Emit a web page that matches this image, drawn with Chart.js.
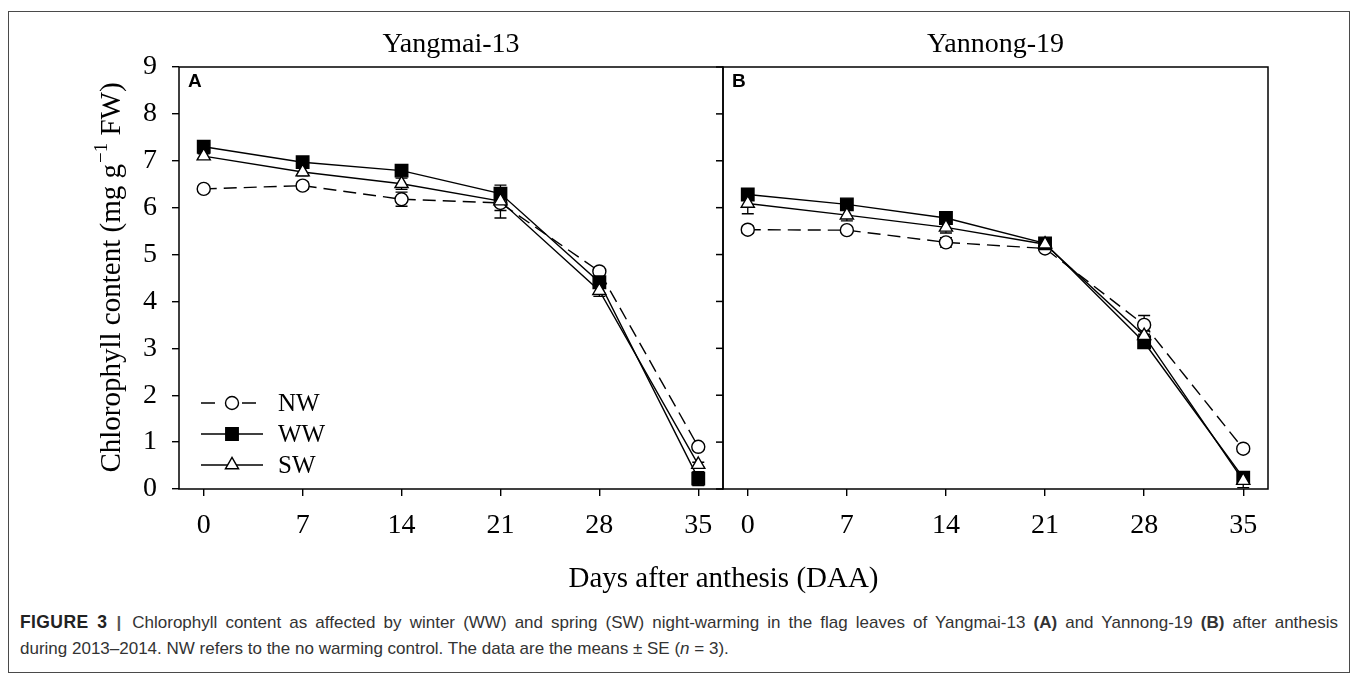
<!DOCTYPE html>
<html>
<head>
<meta charset="utf-8">
<script src="https://cdn.jsdelivr.net/npm/chart.js@4.4.1/dist/chart.umd.min.js"></script>
<style>
  html, body { margin: 0; padding: 0; background: #fff; }
  body { width: 1358px; height: 677px; position: relative; overflow: hidden; }
  #frame { position: absolute; left: 8px; top: 11px; width: 1342px; height: 662px;
           border: 1.5px solid #4a4a4a; box-sizing: border-box; }
  canvas { position: absolute; left: 0; top: 0; }
  #caption { position: absolute; left: 20px; top: 609px; width: 1318px;
             font-family: "Liberation Sans", Arial, sans-serif; font-size: 17px;
             line-height: 26px; color: #333; }
  #caption .first { display: block; white-space: nowrap; text-align: justify; text-align-last: justify; }
  #caption .second { display: block; white-space: nowrap; }
  #caption .fig { font-weight: bold; font-size: 17.5px; letter-spacing: 0.4px; color: #222; }
  #caption .bar { font-weight: bold; margin: 0 3px 0 1px; color: #555; }
</style>
</head>
<body>
<div id="frame"></div>
<canvas id="chartA" width="1358" height="600" style="width:1358px;height:600px"></canvas>
<canvas id="chartB" width="1358" height="600" style="width:1358px;height:600px"></canvas>
<div id="caption"><span class="first"><span class="fig">FIGURE 3</span> <span class="bar">|</span> Chlorophyll content as affected by winter (WW) and spring (SW) night-warming in the flag leaves of Yangmai-13 <b>(A)</b> and Yannong-19 <b>(B)</b> after anthesis</span><span class="second">during 2013–2014. NW refers to the no warming control. The data are the means ± SE (<i>n</i> = 3).</span></div>
<script>
// Sampling days after anthesis (x-axis ticks)
const days = [0, 7, 14, 21, 28, 35];
const yTicks = [0, 1, 2, 3, 4, 5, 6, 7, 8, 9];
const treatments = ['NW', 'WW', 'SW'];
const cultivars = ['Yangmai-13', 'Yannong-19'];

// Chlorophyll content (mg g-1 FW), Yangmai-13
const yangmaiNW = [6.40, 6.47, 6.18, 6.10, 4.64, 0.90];
const yangmaiWW = [7.30, 6.97, 6.79, 6.30, 4.41, 0.22];
const yangmaiSW = [7.10, 6.76, 6.51, 6.14, 4.23, 0.52];
// Standard errors, Yangmai-13
const yangmaiNWse = [0.05, 0.08, 0.15, 0.32, 0.05, 0.05];
const yangmaiWWse = [0.05, 0.05, 0.05, 0.18, 0.10, 0.15];
const yangmaiSWse = [0.05, 0.08, 0.12, 0.20, 0.12, 0.05];

// Chlorophyll content (mg g-1 FW), Yannong-19
const yannongNW = [5.53, 5.52, 5.26, 5.13, 3.50, 0.86];
const yannongWW = [6.28, 6.07, 5.78, 5.24, 3.13, 0.24];
const yannongSW = [6.09, 5.84, 5.58, 5.22, 3.27, 0.18];
// Standard errors, Yannong-19
const yannongNWse = [0.08, 0.05, 0.10, 0.05, 0.20, 0.05];
const yannongWWse = [0.05, 0.05, 0.05, 0.05, 0.08, 0.10];
const yannongSWse = [0.22, 0.12, 0.12, 0.05, 0.10, 0.15];

const SERIF = '"Liberation Serif", "Times New Roman", serif';
const SANS = '"Liberation Sans", Arial, sans-serif';
Chart.defaults.font.family = SERIF;
Chart.defaults.color = '#000';

// marker / line appearance per treatment
const looks = {
  NW: { point: 'circle',   r: 6.5, fill: '#fff', dash: [13, 7], order: 3 },
  WW: { point: 'rect',     r: 8.8, fill: '#000', dash: [],      order: 2 },
  SW: { point: 'triangle', r: 7.6, fill: '#fff', dash: [],      order: 1 }
};

function series(label, values, se) {
  const lk = looks[label];
  return {
    label,
    data: days.map((d, i) => ({ x: d, y: values[i] })),
    se,
    borderColor: '#000',
    borderWidth: 1.4,
    borderDash: lk.dash,
    pointStyle: lk.point,
    pointRadius: lk.r,
    pointBackgroundColor: lk.fill,
    pointBorderColor: '#000',
    pointBorderWidth: 1.4,
    tension: 0,
    fill: false,
    order: lk.order
  };
}

// draw one marker the same way Chart.js shapes it
function marker(ctx, kind, x, y) {
  const lk = looks[kind];
  ctx.beginPath();
  if (lk.point === 'circle') {
    ctx.arc(x, y, lk.r, 0, Math.PI * 2);
  } else if (lk.point === 'rect') {
    const s = lk.r * Math.SQRT1_2;
    ctx.rect(x - s, y - s, 2 * s, 2 * s);
  } else {
    let a = 0;
    ctx.moveTo(x + Math.sin(a) * lk.r, y - Math.cos(a) * lk.r);
    a += Math.PI * 2 / 3;
    ctx.lineTo(x + Math.sin(a) * lk.r, y - Math.cos(a) * lk.r);
    a += Math.PI * 2 / 3;
    ctx.lineTo(x + Math.sin(a) * lk.r, y - Math.cos(a) * lk.r);
    ctx.closePath();
  }
  ctx.fillStyle = lk.fill;
  ctx.fill();
  ctx.lineWidth = 1.4;
  ctx.strokeStyle = '#000';
  ctx.stroke();
}

// error bars, panel frame, titles, legend and axis titles
const panelDecor = {
  id: 'panelDecor',
  beforeDatasetsDraw(chart) {
    const { ctx, scales: { x, y } } = chart;
    ctx.save();
    ctx.strokeStyle = '#000';
    ctx.lineWidth = 1.3;
    chart.data.datasets.forEach(ds => {
      ds.data.forEach((p, i) => {
        const e = ds.se[i];
        const px = x.getPixelForValue(p.x);
        const t = y.getPixelForValue(p.y + e);
        const b = y.getPixelForValue(p.y - e);
        ctx.beginPath();
        ctx.moveTo(px, t); ctx.lineTo(px, b);
        ctx.moveTo(px - 6, t); ctx.lineTo(px + 6, t);
        ctx.moveTo(px - 6, b); ctx.lineTo(px + 6, b);
        ctx.stroke();
      });
    });
    ctx.restore();
  },
  afterDraw(chart, args, opts) {
    const { ctx, chartArea: a, scales: { y } } = chart;
    ctx.save();
    ctx.strokeStyle = '#000';
    ctx.lineWidth = 1.5;
    ctx.strokeRect(a.left, a.top, a.right - a.left, a.bottom - a.top);

    if (opts.innerTicks) {
      yTicks.forEach(v => {
        const py = y.getPixelForValue(v);
        ctx.beginPath();
        ctx.moveTo(a.right - 7, py);
        ctx.lineTo(a.right, py);
        ctx.stroke();
      });
    }

    ctx.fillStyle = '#000';
    ctx.font = '28px ' + SERIF;
    ctx.textAlign = 'center';
    ctx.textBaseline = 'alphabetic';
    ctx.fillText(opts.title, (a.left + a.right) / 2, 52);

    ctx.font = 'bold 19px ' + SANS;
    ctx.textAlign = 'left';
    ctx.fillText(opts.letter, a.left + 9, 87);

    if (opts.legend) {
      const rows = [403, 434, 465];
      chart.data.datasets.forEach((ds, i) => {
        const ly = rows[i];
        ctx.strokeStyle = '#000';
        ctx.lineWidth = 1.4;
        ctx.beginPath();
        if (ds.borderDash.length) {
          ctx.moveTo(a.left + 22, ly); ctx.lineTo(a.left + 36, ly);
          ctx.moveTo(a.left + 63, ly); ctx.lineTo(a.left + 77, ly);
        } else {
          ctx.moveTo(a.left + 22, ly); ctx.lineTo(a.left + 84, ly);
        }
        ctx.stroke();
        marker(ctx, ds.label, a.left + 53, ly);
        ctx.fillStyle = '#000';
        ctx.font = '25px ' + SERIF;
        ctx.textAlign = 'left';
        ctx.textBaseline = 'middle';
        ctx.fillText(ds.label, a.left + 99, ly + 1);
      });
    }

    if (opts.yTitle) {
      const p1 = 'Chlorophyll content (mg g', sup = '\u22121', p2 = ' FW)';
      ctx.font = '29px ' + SERIF;
      const w1 = ctx.measureText(p1).width, w3 = ctx.measureText(p2).width;
      ctx.font = '19px ' + SERIF;
      const w2 = ctx.measureText(sup).width;
      const start = -(w1 + w2 + w3) / 2;
      ctx.translate(120, (a.top + a.bottom) / 2);
      ctx.rotate(-Math.PI / 2);
      ctx.textAlign = 'left';
      ctx.textBaseline = 'alphabetic';
      ctx.fillStyle = '#000';
      ctx.font = '29px ' + SERIF;
      ctx.fillText(p1, start, 0);
      ctx.font = '19px ' + SERIF;
      ctx.fillText(sup, start + w1 + 1, -13);
      ctx.font = '29px ' + SERIF;
      ctx.fillText(p2, start + w1 + w2 + 1, 0);
      ctx.setTransform(1, 0, 0, 1, 0, 0);
    }

    if (opts.xTitle) {
      ctx.fillStyle = '#000';
      ctx.font = '29px ' + SERIF;
      ctx.textAlign = 'center';
      ctx.textBaseline = 'alphabetic';
      ctx.fillText(opts.xTitle, 723.5, 587);
    }
    ctx.restore();
  }
};

function panel(canvasId, sets, deco, pad, showY) {
  return new Chart(document.getElementById(canvasId), {
    type: 'line',
    data: { datasets: sets },
    plugins: [panelDecor],
    options: {
      responsive: false,
      animation: false,
      devicePixelRatio: 1,
      layout: { padding: pad },
      plugins: {
        legend: { display: false },
        tooltip: { enabled: false },
        title: { display: false },
        panelDecor: deco
      },
      scales: {
        x: {
          type: 'linear',
          min: -1.75,
          max: 36.75,
          afterBuildTicks: s => { s.ticks = days.map(v => ({ value: v })); },
          afterFit: s => { s.height = 600 - 489; },
          border: { display: false },
          grid: { drawOnChartArea: false, drawTicks: true, tickLength: 7, color: '#000', lineWidth: 1.4 },
          ticks: { font: { size: 28, family: SERIF }, color: '#000', padding: 13, maxRotation: 0 }
        },
        y: {
          type: 'linear',
          min: 0,
          max: 9,
          afterBuildTicks: s => { s.ticks = yTicks.map(v => ({ value: v })); },
          afterFit: s => { s.width = showY ? 179 : 0; },
          border: { display: false },
          grid: showY
            ? { drawOnChartArea: false, drawTicks: true, tickLength: 7, color: '#000', lineWidth: 1.4 }
            : { display: false },
          ticks: { display: showY, font: { size: 28, family: SERIF }, color: '#000', padding: 15 }
        }
      }
    }
  });
}

panel('chartA',
  [series('NW', yangmaiNW, yangmaiNWse), series('WW', yangmaiWW, yangmaiWWse), series('SW', yangmaiSW, yangmaiSWse)],
  { title: cultivars[0], letter: 'A', innerTicks: true, legend: true, yTitle: true },
  { top: 67, left: 0, right: 1358 - 723, bottom: 0 }, true);

panel('chartB',
  [series('NW', yannongNW, yannongNWse), series('WW', yannongWW, yannongWWse), series('SW', yannongSW, yannongSWse)],
  { title: cultivars[1], letter: 'B', xTitle: 'Days after anthesis (DAA)' },
  { top: 67, left: 723, right: 1358 - 1268, bottom: 0 }, false);
</script>
</body>
</html>
